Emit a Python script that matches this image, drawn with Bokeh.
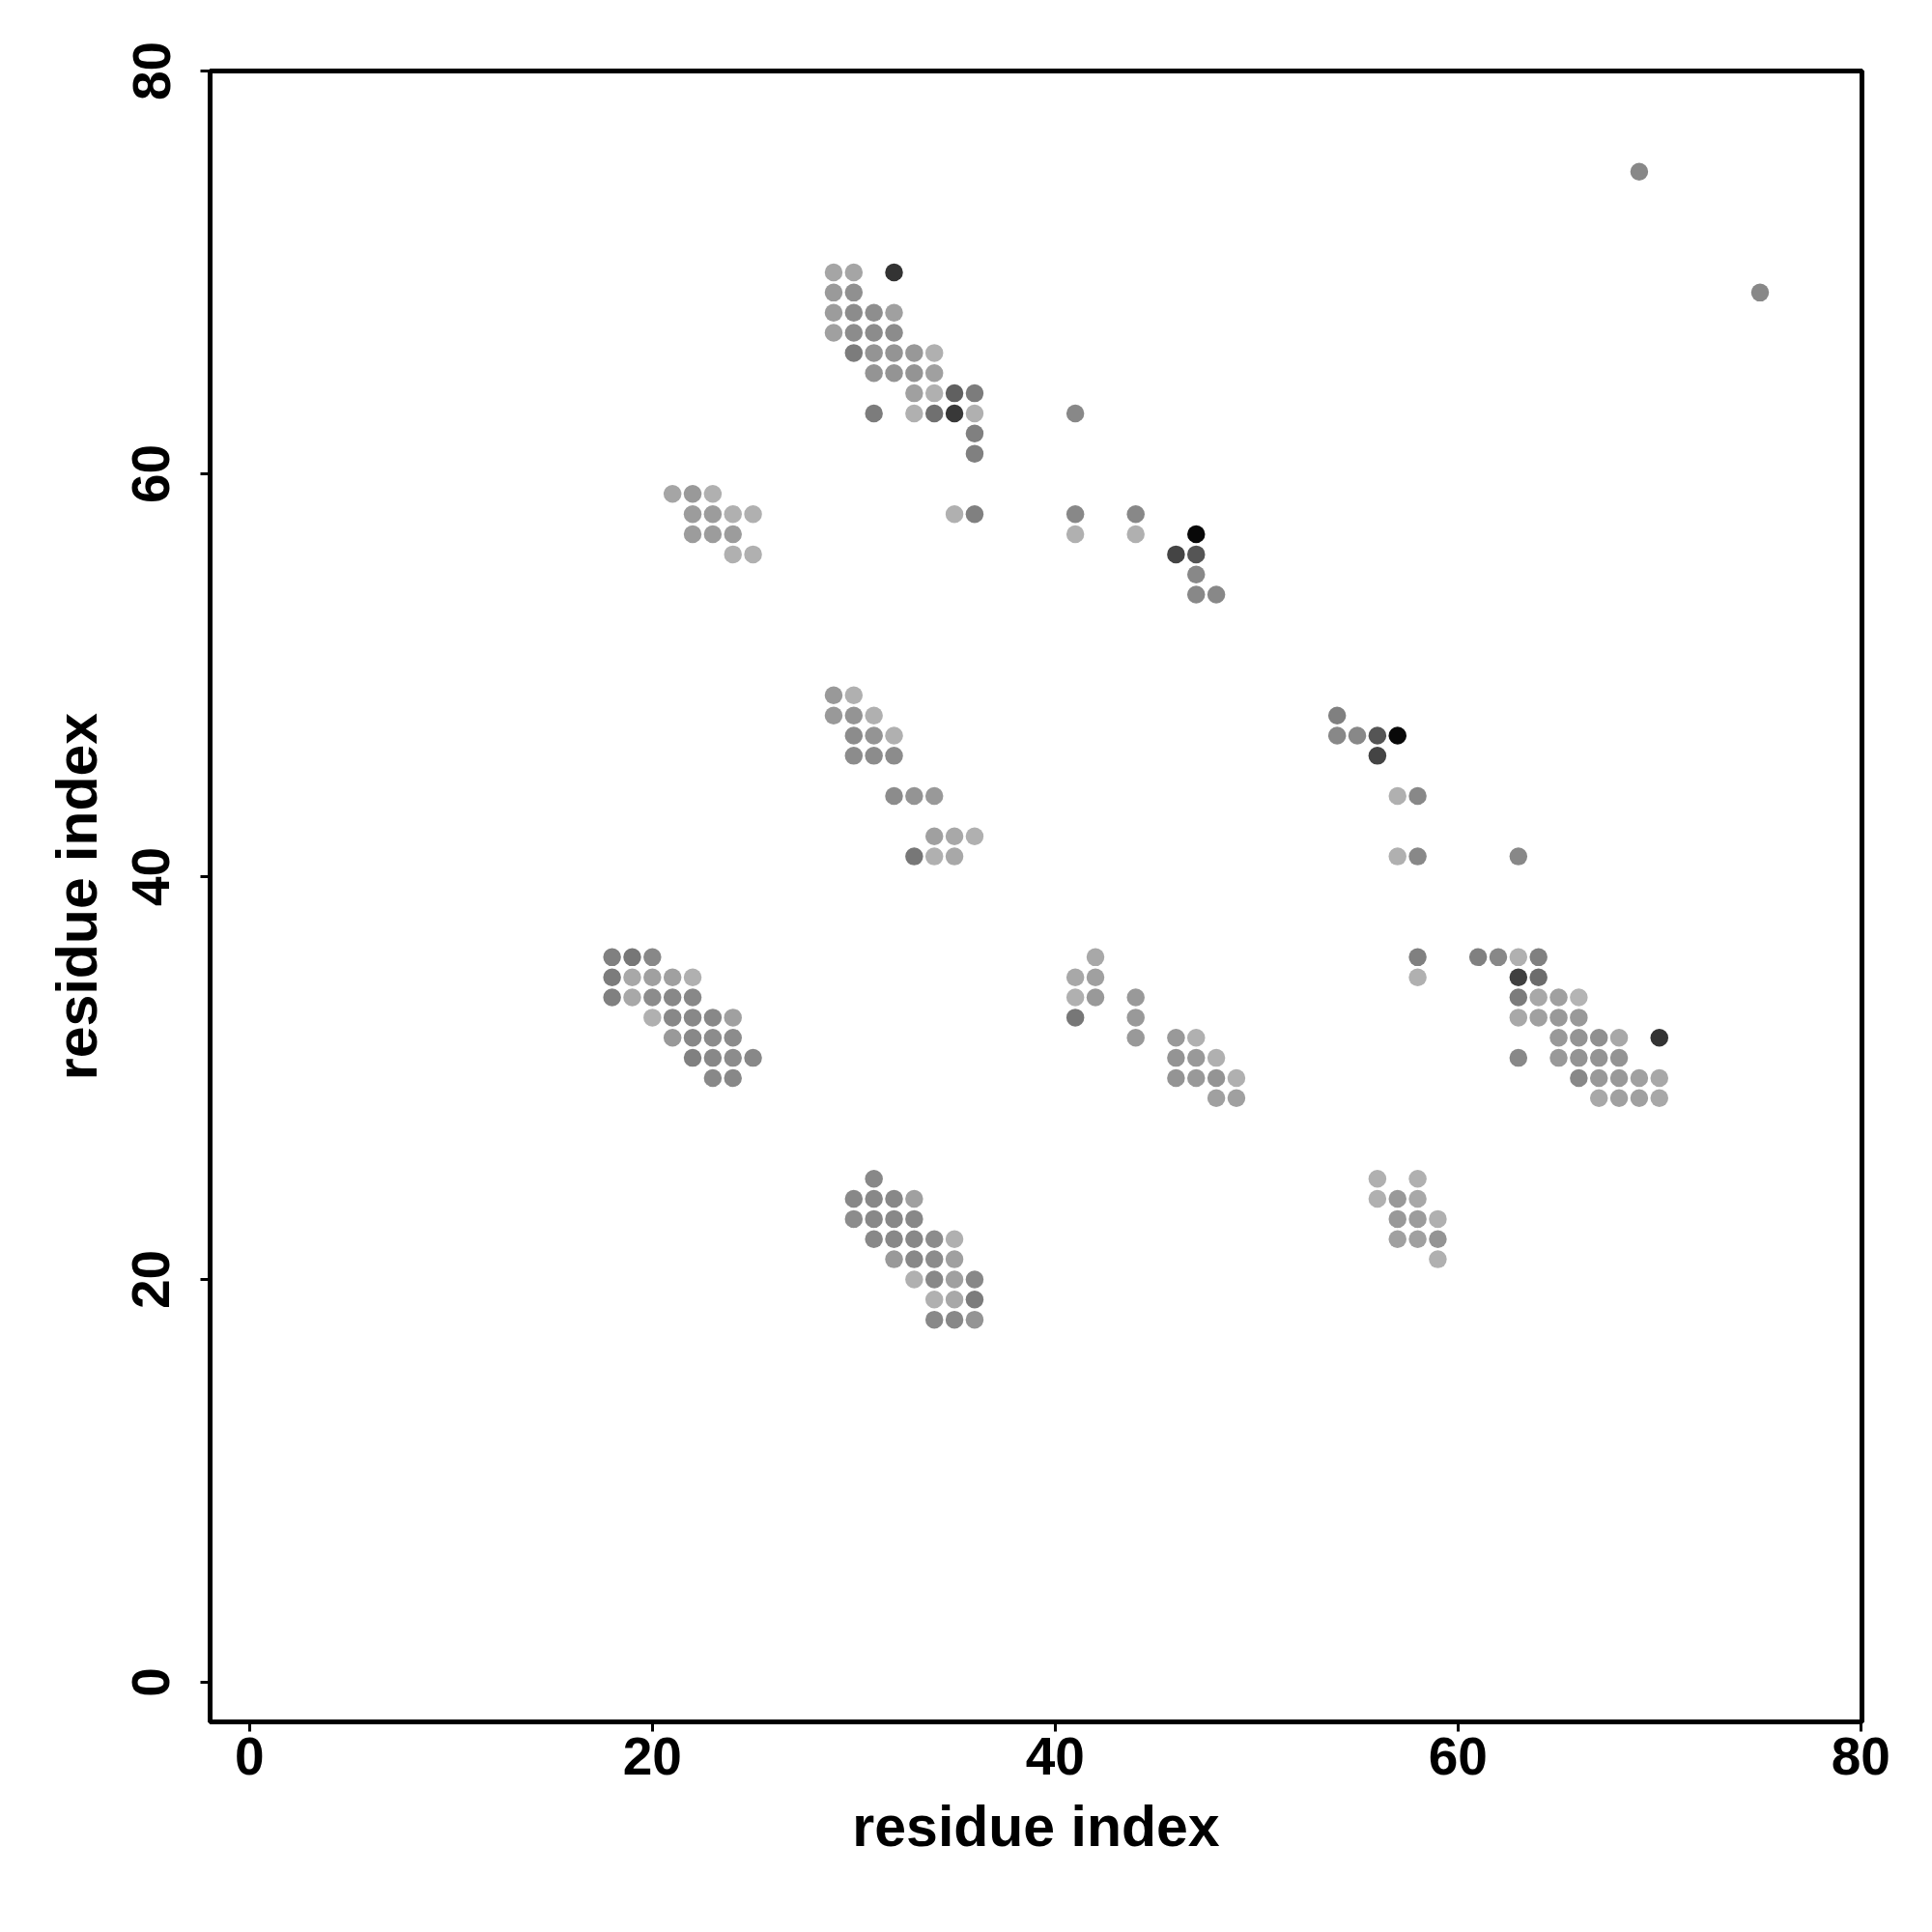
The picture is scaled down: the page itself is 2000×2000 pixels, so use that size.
from bokeh.plotting import figure
from bokeh.models import Range1d, FixedTicker, ColumnDataSource
from bokeh.embed import file_html
from bokeh.resources import INLINE

# contact map: residue i (x), residue j (y), grey level of the dot (0 = black, 255 = white)
res_i = [
    29, 30, 32, 29, 30, 29, 30, 31, 32, 29, 30, 31, 32, 30, 31, 32, 33, 34,
    31, 32, 33, 34, 33, 34, 35, 36, 31, 33, 34, 35, 36, 36, 36,
    21, 22, 23, 22, 23, 24, 25, 22, 23, 24, 24, 25, 35, 36,
    41, 41, 41, 44, 44, 47, 46, 47, 47, 47, 48,
    29, 30, 29, 30, 31, 30, 31, 32, 30, 31, 32, 32, 33, 34, 34, 35, 36, 33, 34, 35,
    54, 54, 55, 56, 57, 56, 57, 58, 57, 58, 58, 58,
    18, 19, 20, 18, 19, 20, 21, 22, 18, 19, 20, 21, 22, 20, 21, 22, 23, 24,
    21, 22, 23, 24, 22, 23, 24, 25, 23, 24,
    42, 41, 42, 41, 42, 44, 41, 44, 44, 46, 47, 46, 47, 48, 46, 47, 48, 49, 48, 49,
    63, 61, 62, 63, 64, 63, 64, 63, 64, 65, 66, 63, 64, 65, 66,
    65, 66, 67, 68, 70, 63, 65, 66, 67, 68, 66, 67, 68, 69, 70, 67, 68, 69, 70,
    31, 30, 31, 32, 33, 30, 31, 32, 33, 31, 32, 33, 34, 35, 32, 33, 34, 35,
    33, 34, 35, 36, 34, 35, 36, 34, 35, 36,
    56, 58, 56, 57, 58, 57, 58, 59, 57, 58, 59, 59,
    69, 75,
]
res_j = [
    70, 70, 70, 69, 69, 68, 68, 68, 68, 67, 67, 67, 67, 66, 66, 66, 66, 66,
    65, 65, 65, 65, 64, 64, 64, 64, 63, 63, 63, 63, 63, 62, 61,
    59, 59, 59, 58, 58, 58, 58, 57, 57, 57, 56, 56, 58, 58,
    63, 58, 57, 58, 57, 57, 56, 56, 55, 54, 54,
    49, 49, 48, 48, 48, 47, 47, 47, 46, 46, 46, 44, 44, 44, 42, 42, 42, 41, 41, 41,
    48, 47, 47, 47, 47, 46, 44, 44, 41, 41, 36, 35,
    36, 36, 36, 35, 35, 35, 35, 35, 34, 34, 34, 34, 34, 33, 33, 33, 33, 33,
    32, 32, 32, 32, 31, 31, 31, 31, 30, 30,
    36, 35, 35, 34, 34, 34, 33, 33, 32, 32, 32, 31, 31, 31, 30, 30, 30, 30, 29, 29,
    41, 36, 36, 36, 36, 35, 35, 34, 34, 34, 34, 33, 33, 33, 33,
    32, 32, 32, 32, 32, 31, 31, 31, 31, 31, 30, 30, 30, 30, 30, 29, 29, 29, 29,
    25, 24, 24, 24, 24, 23, 23, 23, 23, 22, 22, 22, 22, 22, 21, 21, 21, 21,
    20, 20, 20, 20, 19, 19, 19, 18, 18, 18,
    25, 25, 24, 24, 24, 23, 23, 23, 22, 22, 22, 21,
    75, 69,
]
shade = [
    165, 165, 51, 154, 144, 156, 140, 142, 160, 160, 140, 140, 140, 124, 148, 148, 152, 176,
    148, 148, 148, 160, 160, 176, 96, 124, 124, 176, 112, 56, 176, 128, 128,
    165, 153, 176, 156, 156, 176, 176, 156, 156, 156, 176, 176, 176, 128,
    136, 136, 176, 136, 176, 8, 68, 85, 136, 136, 136,
    153, 176, 153, 148, 176, 140, 148, 176, 140, 140, 140, 140, 148, 153, 160, 168, 176, 119, 176, 168,
    128, 136, 136, 85, 8, 68, 176, 136, 176, 136, 128, 176,
    128, 119, 136, 124, 168, 160, 160, 176, 128, 168, 140, 136, 136, 176, 136, 136, 136, 160,
    153, 136, 140, 140, 128, 136, 140, 136, 136, 136,
    168, 168, 160, 176, 153, 153, 119, 153, 153, 153, 176, 148, 153, 176, 148, 153, 148, 176, 160, 160,
    136, 128, 136, 176, 128, 64, 108, 124, 168, 160, 180, 168, 160, 153, 153,
    153, 148, 144, 168, 51, 136, 153, 148, 148, 148, 136, 153, 153, 160, 168, 168, 160, 160, 168,
    136, 136, 136, 136, 160, 140, 136, 136, 136, 136, 136, 136, 140, 176, 153, 136, 140, 160,
    176, 136, 160, 136, 176, 168, 124, 136, 136, 148,
    176, 176, 176, 153, 168, 153, 156, 176, 160, 160, 148, 176,
    136, 136,
]
tick_values = [0, 20, 40, 60, 80]
x_title = "residue index"
y_title = "residue index"

colors = ["#%02x%02x%02x" % (g, g, g) for g in shade]
src = ColumnDataSource(dict(x=res_i, y=res_j, c=colors))

p = figure(frame_width=1710, frame_height=1709,
           output_backend="svg", toolbar_location=None,
           x_range=Range1d(-1.96, 80.06), y_range=Range1d(-1.97, 80.0),
           min_border_left=217, min_border_top=73,
           min_border_right=40, min_border_bottom=170)
p.scatter("x", "y", source=src, size=18.5, fill_color="c", line_color=None)

p.grid.visible = False
p.outline_line_color = "black"
p.outline_line_width = 5
p.outline_line_alpha = 1.0
p.background_fill_color = "white"
p.border_fill_color = "white"

for ax in (p.xaxis[0], p.yaxis[0]):
    ax.ticker = FixedTicker(ticks=tick_values)
    ax.minor_tick_line_color = None
    ax.major_tick_out = 10
    ax.major_tick_in = 0
    ax.major_tick_line_width = 3
    ax.major_tick_line_color = "black"
    ax.axis_line_width = 4
    ax.axis_line_color = "black"
    ax.major_label_text_font = "Liberation Sans"
    ax.major_label_text_font_style = "bold"
    ax.major_label_text_font_size = "55px"
    ax.major_label_text_color = "black"
    ax.axis_label_text_font = "Liberation Sans"
    ax.axis_label_text_font_style = "bold"
    ax.axis_label_text_font_size = "59px"
    ax.axis_label_text_color = "black"

p.xaxis[0].axis_label = x_title
p.yaxis[0].axis_label = y_title
p.xaxis[0].major_label_standoff = 6
p.xaxis[0].axis_label_standoff = 18
p.yaxis[0].major_label_orientation = "vertical"
p.yaxis[0].major_label_standoff = 32
p.yaxis[0].axis_label_standoff = 22

open("out.html", "w").write(file_html(p, INLINE))
